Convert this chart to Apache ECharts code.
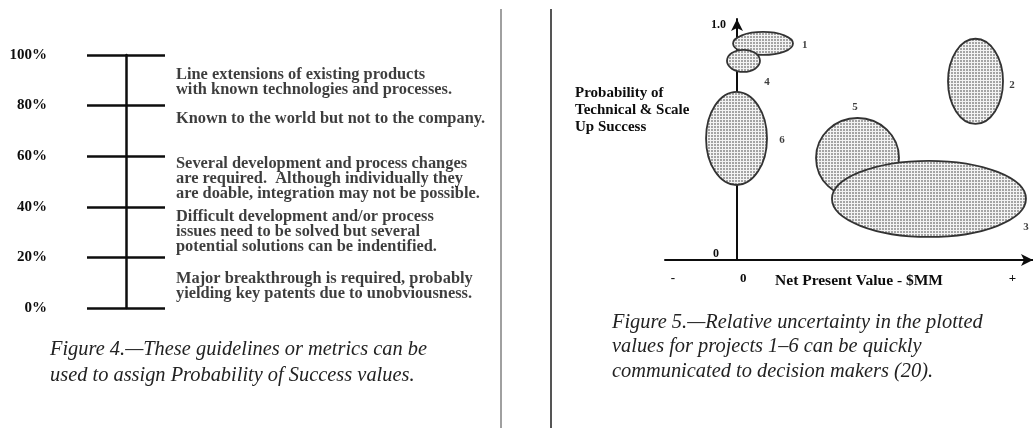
<!DOCTYPE html>
<html><head><meta charset="utf-8">
<script src="https://cdn.jsdelivr.net/npm/echarts@6/dist/echarts.min.js"></script>
<style>html,body{margin:0;padding:0;background:#fff}#c{width:1033px;height:428px}</style>
</head><body><div id="c"></div>
<script>
// ---------- Figure 4 data ----------
const scaleTicks = [0, 20, 40, 60, 80, 100];
const guideTexts = [
  "Line extensions of existing products\nwith known technologies and processes.",
  "Known to the world but not to the company.",
  "Several development and process changes\nare required.  Although individually they\nare doable, integration may not be possible.",
  "Difficult development and/or process\nissues need to be solved but several\npotential solutions can be indentified.",
  "Major breakthrough is required, probably\nyielding key patents due to unobviousness."
];
const guideLevels = [89.4, 74.8, 51.0, 30.1, 8.4];

// ---------- Figure 5 data (NPV units, probability) ----------
const projects   = ["1", "4", "6", "2", "5", "3"];
const npvCenter  = [0.354, 0.084, -0.012, 3.289, 1.659, 2.646];
const probCenter = [0.921, 0.847, 0.517, 0.760, 0.434, 0.260];
const npvSpread  = [0.414, 0.228, 0.421, 0.380, 0.573, 1.340];
const probSpread = [0.049, 0.047, 0.198, 0.181, 0.170, 0.162];
const labelNpv   = [0.931, 0.409, 0.616, 3.793, 1.624, 3.986];
const labelProb  = [0.915, 0.757, 0.511, 0.745, 0.651, 0.140];
const xTickValues = [-0.89, 0.08, 3.8];
const xTickLabels = ["-", "0", "+"];

const captions4 = "Figure 4.\u2014These guidelines or metrics can be\nused to assign Probability of Success values.";
const captions5 = "Figure 5.\u2014Relative uncertainty in the plotted\nvalues for projects 1\u20136 can be quickly\ncommunicated to decision makers (20).";

const SERIF = "'Liberation Serif', 'DejaVu Serif', serif";
const INK = '#0d0d0d';

// stipple pattern
const tile = document.createElement('canvas');
tile.width = 3; tile.height = 3;
const tctx = tile.getContext('2d');
tctx.fillStyle = '#f3f3f3'; tctx.fillRect(0, 0, 3, 3);
tctx.fillStyle = '#a4a4a4'; tctx.fillRect(0, 0, 2, 2);
const stipple = { image: tile, repeat: 'repeat' };

const chart = echarts.init(document.getElementById('c'), null, { renderer: 'canvas' });

const option = {
  backgroundColor: '#ffffff',
  animation: false,
  title: [
    { text: captions4, left: 50, top: 337, padding: 0,
      textStyle: { fontFamily: SERIF, fontStyle: 'italic', fontWeight: 'normal', fontSize: 20.4, lineHeight: 26, color: '#222' } },
    { text: captions5, left: 612, top: 310, padding: 0,
      textStyle: { fontFamily: SERIF, fontStyle: 'italic', fontWeight: 'normal', fontSize: 20.4, lineHeight: 24.5, color: '#222' } }
  ],
  graphic: [
    { type: 'line', shape: { x1: 501, y1: 9, x2: 501, y2: 428 }, style: { stroke: '#a0a0a0', lineWidth: 2 } },
    { type: 'line', shape: { x1: 551, y1: 9, x2: 551, y2: 428 }, style: { stroke: '#555', lineWidth: 2 } }
  ],
  grid: [
    { left: 87, top: 55, width: 78, height: 253, outerBoundsMode: 'none', containLabel: false },
    { left: 665, top: 19, width: 368, height: 241, outerBoundsMode: 'none', containLabel: false }
  ],
  xAxis: [
    { gridIndex: 0, type: 'value', min: -1, max: 1,
      axisLine: { show: false }, axisTick: { show: false }, axisLabel: { show: false }, splitLine: { show: false } },
    { gridIndex: 1, type: 'value', min: -1, max: 4.083,
      name: 'Net Present Value - $MM', nameLocation: 'middle', nameGap: 13, nameMoveOverlap: false,
      nameTextStyle: { fontFamily: SERIF, fontWeight: 'bold', fontSize: 15.5, color: INK, padding: [0, 0, 0, 20] },
      axisLine: { onZero: true, symbol: ['none', 'arrow'], symbolSize: [9, 12], lineStyle: { color: INK, width: 2 } },
      axisTick: { show: false }, splitLine: { show: false },
      axisLabel: { customValues: xTickValues, margin: 12, fontFamily: SERIF, fontWeight: 'bold', fontSize: 13, color: INK,
        formatter: v => { const i = xTickValues.indexOf(v); return i >= 0 ? xTickLabels[i] : ''; } } }
  ],
  yAxis: [
    { gridIndex: 0, type: 'value', min: 0, max: 100, interval: 20, offset: -39,
      axisLine: { onZero: false, lineStyle: { color: INK, width: 2.5 } },
      axisTick: { show: false },
      splitLine: { show: true, lineStyle: { color: INK, width: 2.5 } },
      axisLabel: { margin: 79, formatter: '{value}%', fontFamily: SERIF, fontWeight: 'bold', fontSize: 15, color: INK } },
    { gridIndex: 1, type: 'value', min: 0, max: 1.025, offset: -72,
      name: 'Probability of\nTechnical & Scale\nUp Success', nameLocation: 'middle', nameRotate: 0, nameGap: 162, nameMoveOverlap: false,
      nameTextStyle: { fontFamily: SERIF, fontWeight: 'bold', fontSize: 15, lineHeight: 17, color: INK, align: 'left', verticalAlign: 'bottom', padding: [0, 0, 4, 0] },
      axisLine: { onZero: false, symbol: ['none', 'arrow'], symbolSize: [9, 12], lineStyle: { color: INK, width: 2 } },
      axisTick: { show: false }, splitLine: { show: false },
      axisLabel: { customValues: [0.025, 1], margin: 11, fontFamily: SERIF, fontWeight: 'bold', fontSize: 12, color: INK,
        formatter: v => v < 0.5 ? '{z|0}' : '1.0',
        rich: { z: { fontFamily: SERIF, fontWeight: 'bold', fontSize: 12, color: INK, padding: [0, 7, 0, 0] } } } }
  ],
  series: [
    { type: 'scatter', xAxisIndex: 0, yAxisIndex: 0, symbolSize: 0, silent: true,
      data: guideLevels.map((y, i) => ({ value: [1, y], name: guideTexts[i] })),
      label: { show: true, position: 'right', distance: 11, formatter: p => p.name, align: 'left',
        fontFamily: SERIF, fontWeight: 'bold', fontSize: 16.4, lineHeight: 15, color: INK } },
    { type: 'custom', xAxisIndex: 1, yAxisIndex: 1, silent: true,
      data: projects.map((p, i) => [npvCenter[i], probCenter[i], npvSpread[i], probSpread[i]]),
      renderItem: (params, api) => {
        const c = api.coord([api.value(0), api.value(1)]);
        const s = api.size([api.value(2), api.value(3)]);
        return { type: 'ellipse', shape: { cx: c[0], cy: c[1], rx: s[0], ry: s[1] },
          style: { fill: stipple, stroke: '#333', lineWidth: 1.8 } };
      } },
    { type: 'scatter', xAxisIndex: 1, yAxisIndex: 1, symbolSize: 0, silent: true, z: 5,
      data: projects.map((p, i) => ({ value: [labelNpv[i], labelProb[i]], name: p })),
      label: { show: true, position: 'inside', formatter: p => p.name,
        fontFamily: SERIF, fontWeight: 'bold', fontSize: 11, color: INK } }
  ]
};
chart.setOption(option);
</script>
</body></html>
